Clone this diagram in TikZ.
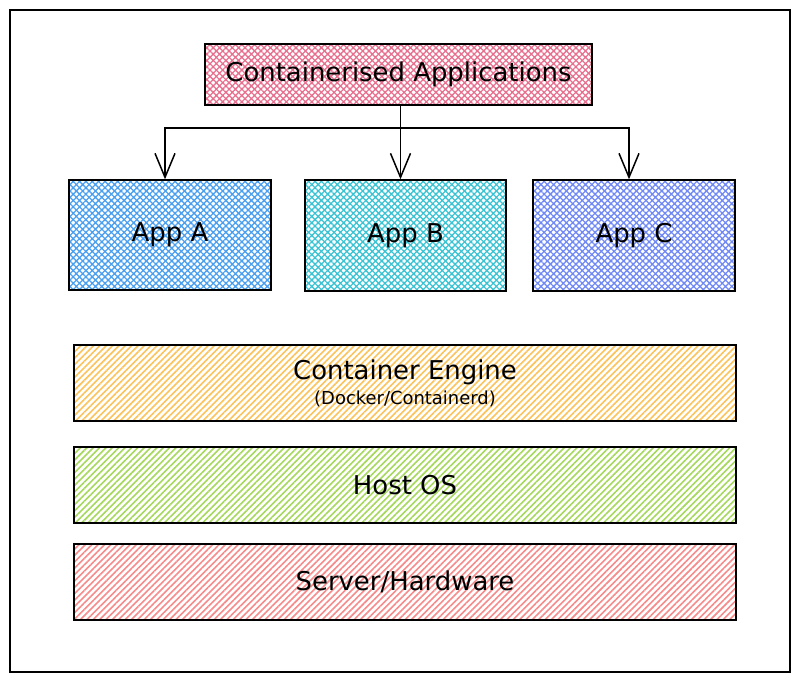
\documentclass[tikz,border=0pt]{standalone}
\usepackage{fontspec}
\setmainfont{DejaVu Sans}
\usetikzlibrary{patterns.meta,arrows.meta,calc}
\definecolor{cpink}{HTML}{E8708F}
\definecolor{cblue}{HTML}{4A9FF0}
\definecolor{cteal}{HTML}{3BC3D3}
\definecolor{cindigo}{HTML}{7089F5}
\definecolor{cyellow}{HTML}{FCC35A}
\definecolor{cgreen}{HTML}{A6D85C}
\definecolor{cred}{HTML}{F78A8A}
\tikzset{
  box/.style={draw=black, line width=1.4bp, inner sep=0pt, align=center, font=\fontsize{26}{30}\selectfont},
  xhatch/.style={pattern={Hatch[angle=45,distance=4.5bp,line width=1.3bp]}, pattern color=#1},
  shatch/.style={pattern={Lines[angle=45,distance=4.5bp,line width=1.6bp]}, pattern color=#1},
  arr/.style={draw=black, line width=1.5bp, -{Straight Barb[length=24bp,width=20bp,line width=1.5bp]}},
}
\begin{document}
\begin{tikzpicture}[x=1bp,y=-1bp]
\useasboundingbox (0,0) rectangle (799,681);
\draw[line width=1.3bp] (10,10) rectangle (790,672);
\node[box, xhatch=cpink, minimum width=387bp, minimum height=61bp] (top) at (398.5,74.5) {Containerised Applications};
\node[box, xhatch=cblue, minimum width=202bp, minimum height=110bp] (a) at (170,235) {App A};
\node[box, xhatch=cteal, minimum width=201bp, minimum height=111bp] (b) at (405.5,235.5) {App B};
\node[box, xhatch=cindigo, minimum width=202bp, minimum height=111bp] (c) at (634,235.5) {App C};
\node[box, shatch=cyellow, minimum width=662bp, minimum height=76bp] (eng) at (405,383) {Container Engine\\[-5bp]{\fontsize{18}{20}\selectfont(Docker/Containerd)}};
\node[box, shatch=cgreen, minimum width=662bp, minimum height=76bp] (host) at (405,485) {Host OS};
\node[box, shatch=cred, minimum width=662bp, minimum height=76bp] (hw) at (405,582) {Server/Hardware};
\coordinate (s) at ([xshift=2bp]top.south);
\coordinate (j) at (s |- 0,128);
\draw[arr] (s) -- (s |- b.north);
\draw[arr] (j) -| ([xshift=-5bp]a.north);
\draw[arr] (j) -| ([xshift=-5bp]c.north);
\end{tikzpicture}
\end{document}
